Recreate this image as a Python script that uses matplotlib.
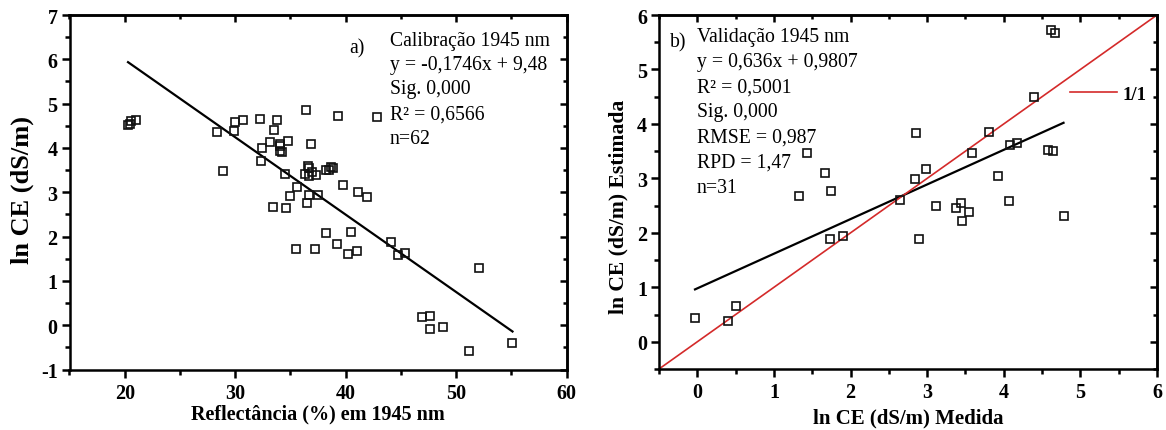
import matplotlib
matplotlib.use('Agg')
import matplotlib.pyplot as plt
from matplotlib.ticker import MultipleLocator
import numpy as np

plt.rcParams['font.family'] = ['Liberation Serif', 'DejaVu Serif']
plt.rcParams['axes.unicode_minus'] = False

# ---------------- data ----------------
# a) Calibration: reflectance (%) at 1945 nm vs ln CE (dS/m)
cal_reflectance = [20.3, 20.6, 21.0, 20.5, 28.4, 28.9, 29.85, 30.0, 30.7, 32.26,
                   32.4, 32.35, 33.16, 33.5, 33.77, 34.07, 34.07, 34.2, 34.1, 34.82,
                   34.52, 36.42, 36.84, 39.35, 42.88, 36.63, 36.7, 36.3, 36.7, 37.0,
                   37.3, 38.23, 38.5, 38.7, 38.9, 39.75, 41.16, 41.92, 35.58, 34.97,
                   36.69, 37.48, 36.54, 33.46, 34.61, 38.23, 40.5, 39.26, 35.52, 37.27,
                   40.2, 41.0, 44.1, 44.78, 45.38, 52.09, 46.93, 47.66, 47.63, 48.83,
                   51.16, 55.11]
cal_ln_ce = [4.52, 4.60, 4.62, 4.55, 4.37, 3.49, 4.39, 4.58, 4.62, 4.65,
             3.99, 3.71, 4.14, 4.40, 4.64, 4.09, 3.94, 3.90, 4.05, 4.15,
             3.41, 4.86, 4.09, 4.73, 4.69, 3.60, 3.55, 3.42, 3.36, 3.46,
             3.38, 3.51, 3.50, 3.56, 3.54, 3.16, 3.00, 2.89, 3.11, 2.91,
             2.94, 2.94, 2.76, 2.66, 2.64, 2.07, 2.11, 1.84, 1.72, 1.73,
             1.61, 1.67, 1.87, 1.58, 1.64, 1.29, 0.19, 0.21, -0.09, -0.04,
             -0.58, -0.40]
cal_slope, cal_intercept = -0.1746, 9.48
cal_label = "a)"
cal_text = ["Calibração 1945 nm", "y = -0,1746x + 9,48", "Sig. 0,000",
            "R² = 0,6566", "n=62"]

# b) Validation: measured vs estimated ln CE (dS/m)
val_measured = [-0.03, 0.40, 0.50, 1.33, 1.43, 1.67, 1.74, 1.73, 1.90, 2.64,
                2.86, 2.84, 2.99, 2.90, 3.11, 3.37, 3.44, 3.54, 3.45, 3.58,
                3.81, 3.93, 4.08, 4.17, 4.07, 4.39, 4.58, 4.64, 4.62, 4.67,
                4.78]
val_estimated = [0.43, 0.39, 0.66, 2.68, 3.46, 3.09, 2.76, 1.89, 1.94, 2.61,
                 3.83, 2.98, 3.18, 1.89, 2.50, 2.46, 2.54, 2.38, 2.22, 3.46,
                 3.85, 3.05, 3.62, 3.65, 2.59, 4.50, 3.52, 3.50, 5.73, 5.67,
                 2.31]
val_slope, val_intercept = 0.636, 0.9807
val_label = "b)"
val_text = ["Validação 1945 nm", "y = 0,636x + 0,9807", "R² = 0,5001",
            "Sig. 0,000", "RMSE = 0,987", "RPD = 1,47", "n=31"]
oneone_label = "1/1"

# ---------------- figure ----------------
W, H = 1166, 431
fig = plt.figure(figsize=(W / 100, H / 100), dpi=100)

def px_axes(x0, x1, ytop, ybot):
    return fig.add_axes([x0 / W, 1 - ybot / H, (x1 - x0) / W, (ybot - ytop) / H])

SPINE_W = 1.8
TICK_FS = 14.5
TEXT_FS = 14.2


def style_axes(ax, xmaj, xmin, ymaj, ymin):
    for s in ax.spines.values():
        s.set_linewidth(SPINE_W)
    ax.xaxis.set_major_locator(MultipleLocator(xmaj))
    ax.xaxis.set_minor_locator(MultipleLocator(xmin))
    ax.yaxis.set_major_locator(MultipleLocator(ymaj))
    ax.yaxis.set_minor_locator(MultipleLocator(ymin))
    ax.tick_params(which='both', direction='out', top=False, right=False,
                   width=SPINE_W)
    ax.tick_params(which='major', length=5.5)
    ax.tick_params(which='minor', length=3.5)
    ax.tick_params(axis='x', which='major', pad=4)
    ax.tick_params(axis='y', which='major', pad=3)
    for lab in ax.get_xticklabels() + ax.get_yticklabels():
        lab.set_fontweight('bold')
        lab.set_fontsize(TICK_FS)
    # mirrored inward ticks on top and right
    secx = ax.secondary_xaxis('top')
    secx.xaxis.set_major_locator(MultipleLocator(xmaj))
    secx.xaxis.set_minor_locator(MultipleLocator(xmin))
    secx.tick_params(which='both', direction='in', labeltop=False, width=SPINE_W)
    secx.tick_params(which='major', length=5)
    secx.tick_params(which='minor', length=3)
    secx.spines['top'].set_linewidth(SPINE_W)
    secy = ax.secondary_yaxis('right')
    secy.yaxis.set_major_locator(MultipleLocator(ymaj))
    secy.yaxis.set_minor_locator(MultipleLocator(ymin))
    secy.tick_params(which='both', direction='in', labelright=False, width=SPINE_W)
    secy.tick_params(which='major', length=5)
    secy.tick_params(which='minor', length=3)
    secy.spines['right'].set_linewidth(SPINE_W)


# ----- panel a -----
ax1 = px_axes(69.5, 566.5, 16, 370.5)
ax1.set_xlim(15, 60)
ax1.set_ylim(-1, 7)
ax1.plot(cal_reflectance, cal_ln_ce, linestyle='none', marker='s', markersize=5.6,
         markerfacecolor='none', markeredgecolor='#111111', markeredgewidth=1.2,
         zorder=3)
xr = np.array([min(cal_reflectance), max(cal_reflectance)])
ax1.plot(xr, cal_slope * xr + cal_intercept, color='black', lw=1.6, zorder=2)
style_axes(ax1, 10, 5, 1, 0.5)
ax1.set_xlabel("Reflectância (%) em 1945 nm", fontsize=14.5, fontweight='bold')
ax1.xaxis.set_label_coords(0.5, -0.096)
ax1.set_ylabel("ln CE (dS/m)", fontsize=19, fontweight='bold')
ax1.yaxis.set_label_coords(-0.072, 0.509)
ax1.text(0.562, 0.907, cal_label, transform=ax1.transAxes, fontsize=TEXT_FS,
         va='center', ha='left')
cal_y = [0.9275, 0.8598, 0.7913, 0.7208, 0.6503]
for t, yy in zip(cal_text, cal_y):
    ax1.text(0.645, yy, t, transform=ax1.transAxes, fontsize=TEXT_FS,
             va='center', ha='left')

# ----- panel b -----
ax2 = px_axes(659, 1157, 16, 370)
ax2.set_xlim(-0.5, 6)
ax2.set_ylim(-0.5, 6)
ax2.plot(val_measured, val_estimated, linestyle='none', marker='s', markersize=5.8,
         markerfacecolor='none', markeredgecolor='#111111', markeredgewidth=1.2,
         zorder=3)
xv = np.array([min(val_measured), max(val_measured)])
ax2.plot(xv, val_slope * xv + val_intercept, color='black', lw=1.6, zorder=2)
ref = ax2.axline((0, 0), slope=1, color='#d42a2a', lw=1.2, zorder=2,
                 label=oneone_label)
style_axes(ax2, 1, 0.5, 1, 0.5)
ax2.set_xlabel("ln CE (dS/m) Medida", fontsize=15, fontweight='bold')
ax2.xaxis.set_label_coords(0.5, -0.11)
ax2.set_ylabel("ln CE (dS/m) Estimada", fontsize=15.6, fontweight='bold')
ax2.yaxis.set_label_coords(-0.062, 0.46)
ax2.text(0.021, 0.923, val_label, transform=ax2.transAxes, fontsize=TEXT_FS,
         va='center', ha='left')
val_y = [0.9387, 0.8681, 0.7975, 0.7268, 0.6562, 0.5856, 0.5133]
for t, yy in zip(val_text, val_y):
    ax2.text(0.0763, yy, t, transform=ax2.transAxes, fontsize=TEXT_FS,
             va='center', ha='left')
leg = ax2.legend(handles=[ref], loc='center left', bbox_to_anchor=(0.825, 0.777),
                 frameon=False, borderpad=0, borderaxespad=0, handlelength=2.5,
                 handletextpad=0.3, prop={'family': 'Liberation Serif',
                                          'weight': 'bold', 'size': 13.5})

fig.savefig('out.png', dpi=100)
